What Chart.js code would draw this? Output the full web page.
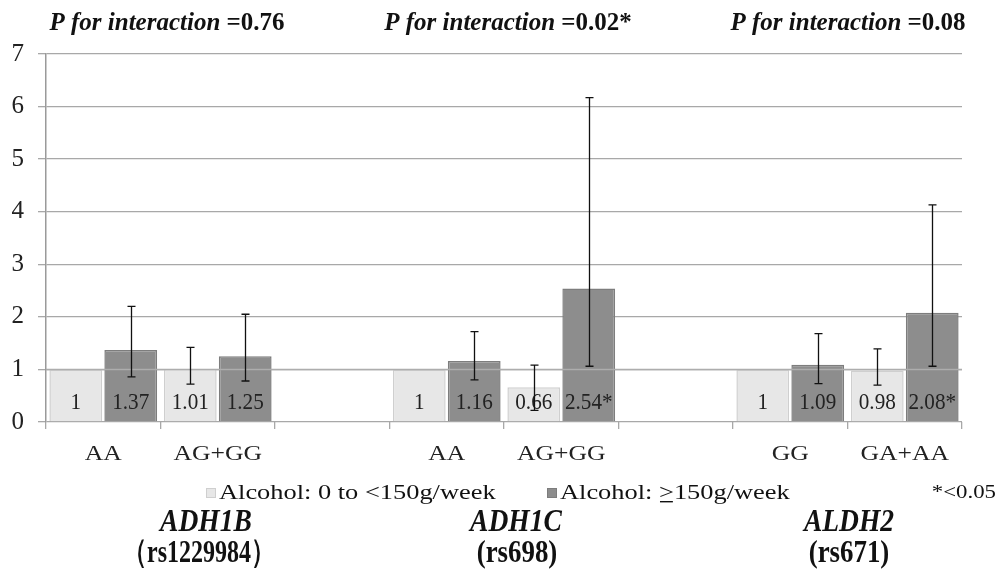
<!DOCTYPE html>
<html><head><meta charset="utf-8">
<script src="https://cdn.jsdelivr.net/npm/chart.js@4"></script>
<style>html,body{margin:0;padding:0;background:#fff}</style>
</head><body><canvas id="c" width="997" height="575"></canvas>
<script>
const categories = ["AA","AG+GG","","AA","AG+GG","","GG","GA+AA"];
const lowAlcohol = [1,1.01,null,1,0.66,null,1,0.98];
const highAlcohol = [1.37,1.25,null,1.16,2.54,null,1.09,2.08];
const lowCiLower = [null,0.72,null,null,0.22,null,null,0.70];
const lowCiUpper = [null,1.42,null,null,1.08,null,null,1.39];
const highCiLower = [0.86,0.78,null,0.80,1.06,null,0.73,1.06];
const highCiUpper = [2.20,2.05,null,1.72,6.17,null,1.68,4.13];
const lowLabels = ["1","1.01","","1","0.66","","1","0.98"];
const highLabels = ["1.37","1.25","","1.16","2.54*","","1.09","2.08*"];
const yTicks = [0,1,2,3,4,5,6,7];
const seriesNames = ["Alcohol: 0 to <150g/week","Alcohol: \u2265150g/week"];
const pValues = ["0.76","0.02*","0.08"];
const genes = ["ADH1B","ADH1C","ALDH2"];
const snps = ["\uFF08rs1229984\uFF09","(rs698)","(rs671)"];
const sigNote = "*<0.05";

const SERIF = "'Liberation Serif', 'Times New Roman', serif";
const LIGHT = '#e7e7e7', LIGHT_B = '#cfcfcf', DARK = '#8d8d8d', DARK_B = '#7d7d7d';

function txt(ctx, s, font, x, y, align, sx) {
  ctx.save();
  ctx.font = font; ctx.textAlign = align; ctx.textBaseline = 'middle';
  ctx.translate(x, y); ctx.scale(sx, 1);
  ctx.fillText(s, 0, 0);
  ctx.restore();
}

const annot = {
  id: 'annot',
  afterDatasetsDraw(chart) {
    const ctx = chart.ctx, y = chart.scales.y, x = chart.scales.x, area = chart.chartArea;
    ctx.save();
    ctx.strokeStyle = '#adadad'; ctx.lineWidth = 1.3;
    const y1 = Math.round(y.getPixelForValue(1)) + 0.5;
    ctx.beginPath(); ctx.moveTo(area.left, y1); ctx.lineTo(area.right, y1); ctx.stroke();
    ctx.fillStyle = '#222';
    const labs = [lowLabels, highLabels];
    [0,1].forEach(d => {
      chart.getDatasetMeta(d).data.forEach((b, i) => {
        if (labs[d][i]) txt(ctx, labs[d][i], '23px ' + SERIF, b.x, area.bottom - 19, 'center', 0.92);
      });
    });
    const ci = [[lowCiLower, lowCiUpper],[highCiLower, highCiUpper]];
    ctx.strokeStyle = '#111'; ctx.lineWidth = 1.3;
    [0,1].forEach(d => {
      chart.getDatasetMeta(d).data.forEach((b, i) => {
        const lo = ci[d][0][i], hi = ci[d][1][i];
        if (lo == null || hi == null) return;
        const xx = Math.round(b.x) + 0.5, yl = y.getPixelForValue(lo), yh = y.getPixelForValue(hi);
        ctx.beginPath();
        ctx.moveTo(xx, yl); ctx.lineTo(xx, yh);
        ctx.moveTo(xx - 4, yl); ctx.lineTo(xx + 4, yl);
        ctx.moveTo(xx - 4, yh); ctx.lineTo(xx + 4, yh);
        ctx.stroke();
      });
    });
    ctx.fillStyle = '#222';
    categories.forEach((c, i) => {
      if (c) txt(ctx, c, '20px ' + SERIF, x.getPixelForValue(i), area.bottom + 33, 'center', 1.28);
    });
    ctx.restore();
  },
  afterDraw(chart) {
    const ctx = chart.ctx;
    ctx.save();
    ctx.fillStyle = '#111';
    const tCenters = [167, 508, 848];
    pValues.forEach((p, k) => {
      const a = 'P for interaction ', b = '=' + p;
      ctx.font = 'italic bold 25px ' + SERIF; const wa = ctx.measureText(a).width;
      ctx.font = 'bold 25px ' + SERIF; const wb = ctx.measureText(b).width;
      const x0 = tCenters[k] - (wa + wb) / 2;
      txt(ctx, a, 'italic bold 25px ' + SERIF, x0, 24, 'left', 1);
      txt(ctx, b, 'bold 25px ' + SERIF, x0 + wa, 24, 'left', 1);
    });
    const SX = 1.2, legY = 493;
    const legX = [206, 547];
    const fills = [LIGHT, DARK], borders = [LIGHT_B, DARK_B];
    seriesNames.forEach((n, k) => {
      ctx.fillStyle = fills[k]; ctx.strokeStyle = borders[k]; ctx.lineWidth = 1;
      ctx.fillRect(legX[k], legY - 5, 10, 10); ctx.strokeRect(legX[k] + 0.5, legY - 4.5, 9, 9);
      ctx.fillStyle = '#111';
      const f = '22px ' + SERIF;
      let x = legX[k] + 13;
      if (k === 1) {
        const pre = 'Alcohol: ', ge = '>', post = '150g/week';
        ctx.font = f;
        txt(ctx, pre, f, x, legY, 'left', SX); x += ctx.measureText(pre).width * SX;
        const gw = ctx.measureText(ge).width * SX;
        txt(ctx, ge, f, x, legY, 'left', SX);
        ctx.fillRect(x + 1, legY + 8, gw - 2, 1.4);
        x += gw;
        txt(ctx, post, f, x, legY, 'left', SX);
      } else {
        txt(ctx, n, f, x, legY, 'left', SX);
      }
    });
    txt(ctx, sigNote, '19px ' + SERIF, 996, legY, 'right', 1.2);
    const gCenters = [206, 516, 849];
    genes.forEach((g, k) => {
      txt(ctx, g, 'italic bold 32px ' + SERIF, gCenters[k], 523, 'center', 0.86);
    });
    ctx.font = 'bold 32px ' + SERIF;
    const rsFit = 152 / ctx.measureText(snps[0]).width;
    const snpCenters = [199, 517, 849];
    snps.forEach((s, k) => {
      txt(ctx, s, 'bold 32px ' + SERIF, snpCenters[k], 554, 'center', k === 0 ? rsFit : 0.84);
    });
    ctx.restore();
  }
};

new Chart(document.getElementById('c'), {
  type: 'bar',
  data: {
    labels: categories,
    datasets: [
      { label: seriesNames[0], data: lowAlcohol, backgroundColor: LIGHT, borderColor: LIGHT_B, borderWidth: 1.5,
        categoryPercentage: 0.96, barPercentage: 0.96 },
      { label: seriesNames[1], data: highAlcohol, backgroundColor: DARK, borderColor: DARK_B, borderWidth: 1.5,
        categoryPercentage: 0.96, barPercentage: 0.96 }
    ]
  },
  options: {
    responsive: false, animation: false, devicePixelRatio: 1,
    layout: { padding: { top: 54, right: 35, bottom: 0, left: 0 } },
    plugins: { legend: { display: false }, tooltip: { enabled: false } },
    scales: {
      x: {
        grid: { offset: true, drawOnChartArea: false, tickLength: 7, color: '#a8a8a8', lineWidth: 1.3 },
        border: { display: false },
        ticks: { display: false, autoSkip: false },
        afterFit(s) { s.height = 153; }
      },
      y: {
        min: 0, max: 7,
        afterBuildTicks(s) { s.ticks = yTicks.map(v => ({ value: v })); },
        ticks: { font: { family: SERIF, size: 25 }, color: '#222', padding: 14 },
        grid: { color: '#a8a8a8', lineWidth: 1.3, tickLength: 8 },
        border: { color: '#9a9a9a', width: 1.5 },
        afterFit(s) { s.width = 46; }
      }
    }
  },
  plugins: [annot]
});
</script>
</body></html>
